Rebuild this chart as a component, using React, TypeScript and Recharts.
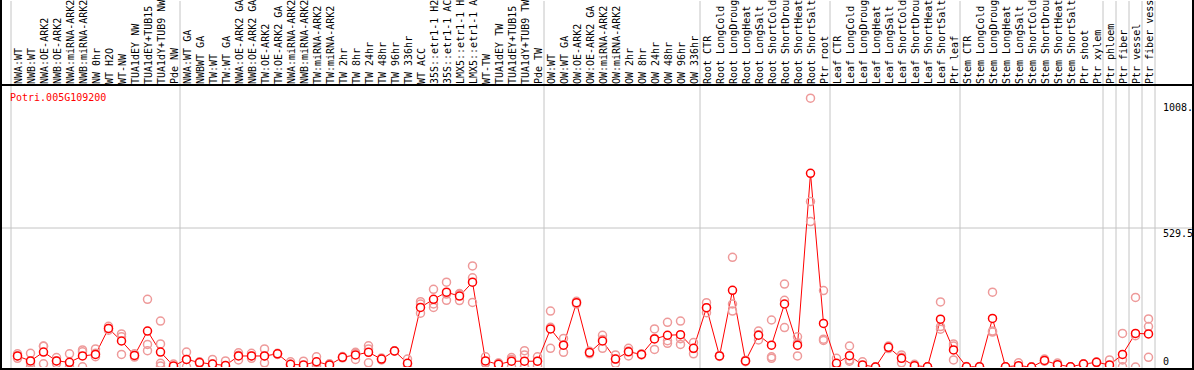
import { ComposedChart, Line, Scatter, XAxis, YAxis, ReferenceLine } from 'recharts';

const geneId = 'Potri.005G109200';

const categories = [
  'NWA:WT', 'NWB:WT', 'NWA:OE-ARK2', 'NWB:OE-ARK2', 'NWA:miRNA-ARK2', 'NWB:miRNA-ARK2', 'NW 0hr', 'WT H2O',
  'WT-NW', 'TUA1dEY NW', 'TUA1dEY+TUB15 NW', 'TUA1dY+TUB9 NW', 'Pde NW',
  'NWA:WT GA', 'NWBWT GA', 'TW:WT', 'TW:WT GA', 'NWA:OE-ARK2 GA', 'NWB:OE-ARK2 GA', 'TW:OE-ARK2', 'TW:OE-ARK2 GA',
  'NWA:miRNA-ARK2 GA', 'NWB:miRNA-ARK2 GA', 'TW:miRNA-ARK2', 'TW:miRNA-ARK2', 'TW 2hr', 'TW 8hr', 'TW 24hr',
  'TW 48hr', 'TW 96hr', 'TW 336hr', 'WT ACC', '35S::etr1-1 H2O', '35S::etr1-1 ACC', 'LMX5::etr1-1 H2O',
  'LMX5::etr1-1 ACC', 'WT-TW', 'TUA1dEY TW', 'TUA1dEY+TUB15 TW', 'TUA1dY+TUB9 TW', 'Pde TW',
  'OW:WT', 'OW:WT GA', 'OW:OE-ARK2', 'OW:OE-ARK2 GA', 'OW:miRNA-ARK2', 'OW:miRNA-ARK2', 'OW 2hr', 'OW 8hr',
  'OW 24hr', 'OW 48hr', 'OW 96hr', 'OW 336hr',
  'Root CTR', 'Root LongCold', 'Root LongDrought', 'Root LongHeat', 'Root LongSalt', 'Root ShortCold',
  'Root ShortDrought', 'Root ShortHeat', 'Root ShortSalt', 'Ptr root',
  'Leaf CTR', 'Leaf LongCold', 'Leaf LongDrought', 'Leaf LongHeat', 'Leaf LongSalt', 'Leaf ShortCold',
  'Leaf ShortDrought', 'Leaf ShortHeat', 'Leaf ShortSalt', 'Ptr leaf',
  'Stem CTR', 'Stem LongCold', 'Stem LongDrought', 'Stem LongHeat', 'Stem LongSalt', 'Stem ShortCold',
  'Stem ShortDrought', 'Stem ShortHeat', 'Stem ShortSalt', 'Ptr shoot', 'Ptr xylem',
  'Ptr phloem', 'Ptr fiber', 'Ptr vessel', 'Ptr fiber vessel',
];

const means = [
  42, 23, 57, 23, 18, 42, 48, 147, 99, 44, 137, 57, 4,
  29, 17, 11, 6, 42, 42, 42, 50, 10, 8, 20, 8, 37, 46, 56, 30, 61, 14, 227, 258, 285, 270, 323, 23, 10, 22, 22, 22,
  145, 83, 245, 55, 99, 30, 58, 48, 107, 121, 123, 71,
  226, 42, 292, 23, 121, 83, 240, 83, 738, 166,
  14, 43, 8, 0, 75, 33, 5, 1, 182, 65,
  1, 1, 185, 1, 5, 0, 25, 9, 1, 11, 18,
  8, 48, 128, 126,
];

const replicates = [
  [50, 33, 42], [52, 1, 16], [80, 12, 79], [36, 23, 13], [50, 1, 16], [65, 1, 58], [69, 39, 52],
  [155, 147, 140], [126, 48, 115], [44, 50, 38], [258, 86, 62], [175, 88, 14, 4], [11, 1, 1],
  [57, 1, 29], [20, 15, 16], [29, 11, 1], [23, 1, 1], [54, 27, 45], [52, 42, 33], [69, 16, 42],
  [48, 52, 50], [20, 1, 10], [22, 1, 1], [39, 5, 16], [10, 1, 12], [40, 35, 36], [52, 29, 56],
  [81, 69, 16], [34, 27, 30], [61, 60, 62], [30, 1, 11], [249, 240, 205], [296, 240, 227],
  [323, 254, 278], [277, 253, 280], [385, 340, 246], [39, 14, 16], [1, 14, 15], [36, 1, 29],
  [62, 46, 1, 1], [39, 5, 22],
  [213, 71, 151], [109, 56, 84], [250, 245, 240], [55, 50, 60], [121, 71, 105], [46, 14, 30],
  [71, 42, 61], [48, 46, 50], [145, 67, 109], [170, 100, 90], [175, 86, 108], [93, 50, 70],
  [245, 226, 207], [42, 40, 44], [418, 240, 213], [23, 20, 26], [137, 103, 123], [179, 39, 33],
  [316, 150, 254], [115, 42, 92], [1024, 630, 554], [291, 106, 101],
  [33, 1, 8], [80, 27, 22], [20, 1, 3], [0, 0, 0], [75, 70, 80], [46, 16, 37], [10, 3, 2],
  [1, 1, 1], [248, 154, 144], [88, 27, 80],
  [1, 0, 2], [1, 0, 2], [285, 137, 133], [1, 1, 1], [16, 0, 0], [0, 0, 0], [30, 22, 23],
  [15, 6, 6], [1, 1, 1], [11, 10, 12], [18, 17, 19],
  [27, 1, 0], [128, 27, 1], [265, 0, 119], [183, 154, 37],
];

// category index where each separator line sits
const groupBreaks = [0, 13, 41, 53, 63, 73, 84, 85, 86, 87, 88];

const yTicks = [0, 529.5, 1008];
const yTickLabels = ['0', '529.5', '1008.'];
const yMax = 1059;

const lineData = categories.map((name, i) => ({ x: i + 0.5, name, mean: means[i] }));
const repData = replicates.flatMap((reps, i) => reps.map((v) => ({ x: i + 0.5, v })));
const xTicks = categories.map((_, i) => i + 0.5);

const mono = '"DejaVu Sans Mono", monospace';

function CategoryTick(props: any) {
  const { x, payload } = props;
  const label = categories[Math.floor(payload.value)];
  return (
    <text
      transform={`translate(${x + 4.5},84) rotate(-90)`}
      fontFamily={mono}
      fontSize={10}
      fill="#000"
      textAnchor="start"
    >
      {label}
    </text>
  );
}

function ValueTick(props: any) {
  const { y, payload } = props;
  const idx = yTicks.indexOf(payload.value);
  const dy = payload.value === 0 ? -2 : 9;
  return (
    <text x={1163} y={y + dy} fontFamily={mono} fontSize={10} fill="#000">
      {yTickLabels[idx]}
    </text>
  );
}

function RepDot(props: any) {
  const { cx, cy } = props;
  return <circle cx={cx} cy={cy} r={4} fill="none" stroke="#ee9a9a" strokeWidth={1.5} />;
}

export default function App() {
  return (
    <div style={{ position: 'absolute', left: 0, top: 0, width: 1194, height: 370, background: '#fff' }}>
      <ComposedChart width={1194} height={370} data={lineData} margin={{ top: 0, right: 0, bottom: 2, left: 1 }}>
        <XAxis
          type="number"
          dataKey="x"
          domain={[0, categories.length]}
          ticks={xTicks}
          interval={0}
          orientation="top"
          height={1}
          axisLine={false}
          tickLine={false}
          tick={<CategoryTick />}
          padding={{ left: 10, right: 38 }}
          allowDataOverflow
        />
        <YAxis
          type="number"
          orientation="right"
          width={1}
          domain={[0, yMax]}
          ticks={yTicks}
          interval={0}
          axisLine={false}
          tickLine={false}
          tick={<ValueTick />}
          padding={{ top: 88, bottom: 1 }}
          allowDataOverflow
        />
        <ReferenceLine y={529.5} stroke="#c4c4c4" strokeWidth={1} />
        {groupBreaks.map((b) => (
          <ReferenceLine key={b} x={b} stroke="#c4c4c4" strokeWidth={1} />
        ))}
        <Scatter data={repData} dataKey="v" shape={<RepDot />} isAnimationActive={false} />
        <Line
          dataKey="mean"
          stroke="#ff0000"
          strokeWidth={1}
          dot={{ r: 4, stroke: '#ff0000', strokeWidth: 1.5, fill: '#fff' }}
          isAnimationActive={false}
        />
      </ComposedChart>
      <svg
        width={1194}
        height={370}
        style={{ position: 'absolute', left: 0, top: 0, pointerEvents: 'none' }}
      >
        <rect x={0} y={0} width={2} height={370} fill="#000" />
        <rect x={1192} y={0} width={2} height={370} fill="#000" />
        <rect x={0} y={84} width={1194} height={2} fill="#000" />
        <rect x={0} y={368} width={1194} height={2} fill="#000" />
        <text x={10} y={101} fontFamily={mono} fontSize={10} fill="#ff0000">
          {geneId}
        </text>
      </svg>
    </div>
  );
}
